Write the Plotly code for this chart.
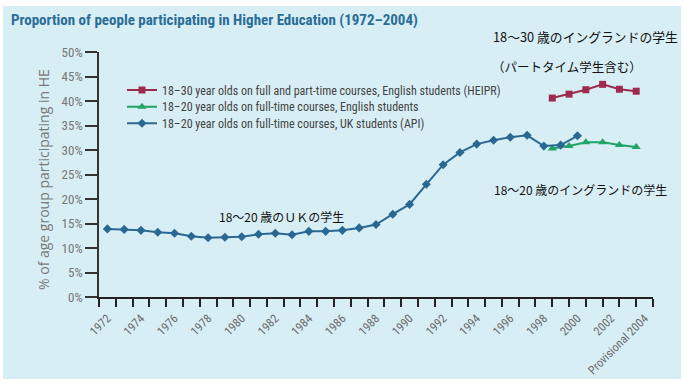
import plotly.graph_objects as go

# ---------------- data ----------------
years_api = list(range(1972, 2001))
api_uk_18_20 = [13.9, 13.8, 13.6, 13.2, 13.0, 12.4, 12.1, 12.2, 12.3, 12.8,
                13.0, 12.7, 13.4, 13.4, 13.6, 14.1, 14.8, 16.9, 18.9, 23.0,
                27.0, 29.5, 31.2, 32.0, 32.6, 33.0, 30.8, 31.0, 32.9]
# English series sit on the boundaries between calendar years (academic years)
years_eng = [1998.5, 1999.5, 2000.5, 2001.5, 2002.5, 2003.5]
eng_ft_18_20 = [30.3, 30.8, 31.6, 31.6, 31.0, 30.6]
heipr_18_30 = [40.6, 41.4, 42.3, 43.4, 42.4, 42.0]

tick_years = list(range(1972, 2005, 2))
tick_labels = [str(y) for y in tick_years[:-1]] + ["Provisional 2004"]
boundary_ticks = [1971.5 + i for i in range(34)]
y_ticks = list(range(0, 51, 5))
y_tick_labels = [f"{v}%" for v in y_ticks]

series_names = [
    "18–30 year olds on full and part-time courses, English students (HEIPR)",
    "18–20 year olds on full-time courses, English students",
    "18–20 year olds on full-time courses, UK students (API)",
]

# ---------------- layout constants ----------------
W, H = 684, 384
ML, MR, MT, MB = 99, 31, 52, 87
PW, PH = W - ML - MR, H - MT - MB

def px_x(p):
    return (p - ML) / PW

def px_y(p):
    return (H - MB - p) / PH

BG = "#d8eef5"
RED = "#9e2a50"
GREEN = "#1fa466"
BLUE = "#2a6894"
NARROW = "Liberation Sans Narrow, Arial Narrow, Roboto Condensed, sans-serif"
JP = "Noto Sans CJK JP"

legend_font = dict(family=NARROW, size=12, color="#444444")
legend_rows = [90, 106.7, 123.3]   # pixel centre of each legend row
legend_ids = ["legend", "legend2", "legend3"]

fig = go.Figure()
fig.add_trace(go.Scatter(x=years_eng, y=heipr_18_30, name=series_names[0],
                         mode="lines+markers", legend=legend_ids[0],
                         line=dict(color=RED, width=2),
                         marker=dict(symbol="square", size=7, color=RED)))
fig.add_trace(go.Scatter(x=years_eng, y=eng_ft_18_20, name=series_names[1],
                         mode="lines+markers", legend=legend_ids[1],
                         line=dict(color=GREEN, width=2),
                         marker=dict(symbol="triangle-up", size=8, color=GREEN)))
fig.add_trace(go.Scatter(x=years_api, y=api_uk_18_20, name=series_names[2],
                         mode="lines+markers", legend=legend_ids[2],
                         line=dict(color=BLUE, width=2),
                         marker=dict(symbol="diamond", size=7, color=BLUE)))

legends = {}
for lid, row in zip(legend_ids, legend_rows):
    legends[lid] = dict(x=px_x(122), y=px_y(row), xanchor="left", yanchor="middle",
                        bgcolor="rgba(0,0,0,0)", borderwidth=0,
                        font=legend_font, itemwidth=30)

fig.update_layout(
    width=W, height=H,
    margin=dict(l=ML, r=MR, t=MT, b=MB, pad=0, autoexpand=False),
    paper_bgcolor="white",
    plot_bgcolor="rgba(0,0,0,0)",
    showlegend=True,
    **legends,
    xaxis=dict(range=[1971.5, 2004.5], showgrid=False, zeroline=False,
               automargin=False,
               showline=True, linecolor="#222222", linewidth=1.5,
               tickmode="array", tickvals=tick_years, ticktext=tick_labels,
               ticks="", tickangle=-45, ticklabelstandoff=8,
               tickfont=dict(family=NARROW, size=12, color="#6b6b6b"),
               minor=dict(tickvals=boundary_ticks, ticks="outside", ticklen=8,
                          tickwidth=1.5, tickcolor="#222222", showgrid=False)),
    yaxis=dict(range=[0, 50], showgrid=False, zeroline=False,
               automargin=False,
               showline=True, linecolor="#333333", linewidth=1.5,
               tickmode="array", tickvals=y_ticks, ticktext=y_tick_labels,
               ticks="outside", ticklen=12, tickwidth=1.5, tickcolor="#333333",
               tickfont=dict(family=NARROW, size=13, color="#777777")),
    shapes=[dict(type="rect", xref="paper", yref="paper", layer="below",
                 x0=px_x(3), x1=px_x(681), y0=px_y(379), y1=px_y(6),
                 fillcolor=BG, line=dict(width=0))],
)

annotations = [
    dict(text="Proportion of people participating in Higher Education (1972–2004)",
         x=px_x(9), y=px_y(20), xanchor="left", yanchor="middle",
         font=dict(family=NARROW, size=15, color="#2a6d97", weight="bold")),
    dict(text="% of age group participating in HE", textangle=-90,
         x=px_x(43), y=px_y(180), xanchor="center", yanchor="middle",
         font=dict(family="Open Sans, sans-serif", size=14, color="#7a7a7a")),
    dict(text="18～30 歳のイングランドの学生",
         x=px_x(491), y=px_y(36), xanchor="left", yanchor="middle",
         font=dict(family=JP, size=12.8, color="#111111")),
    dict(text="（パートタイム学生含む）",
         x=px_x(490), y=px_y(66), xanchor="left", yanchor="middle",
         font=dict(family=JP, size=12.5, color="#111111")),
    dict(text="18～20 歳のイングランドの学生",
         x=px_x(492), y=px_y(189), xanchor="left", yanchor="middle",
         font=dict(family=JP, size=12, color="#111111")),
    dict(text="18～20 歳のＵＫの学生",
         x=px_x(217), y=px_y(216), xanchor="left", yanchor="middle",
         font=dict(family=JP, size=12, color="#111111")),
]
for a in annotations:
    a.update(xref="paper", yref="paper", showarrow=False)
fig.update_layout(annotations=annotations)

fig.write_html("out.html", config={"displayModeBar": False},
               post_script="document.body.style.margin='0px';document.body.style.padding='0px';")
